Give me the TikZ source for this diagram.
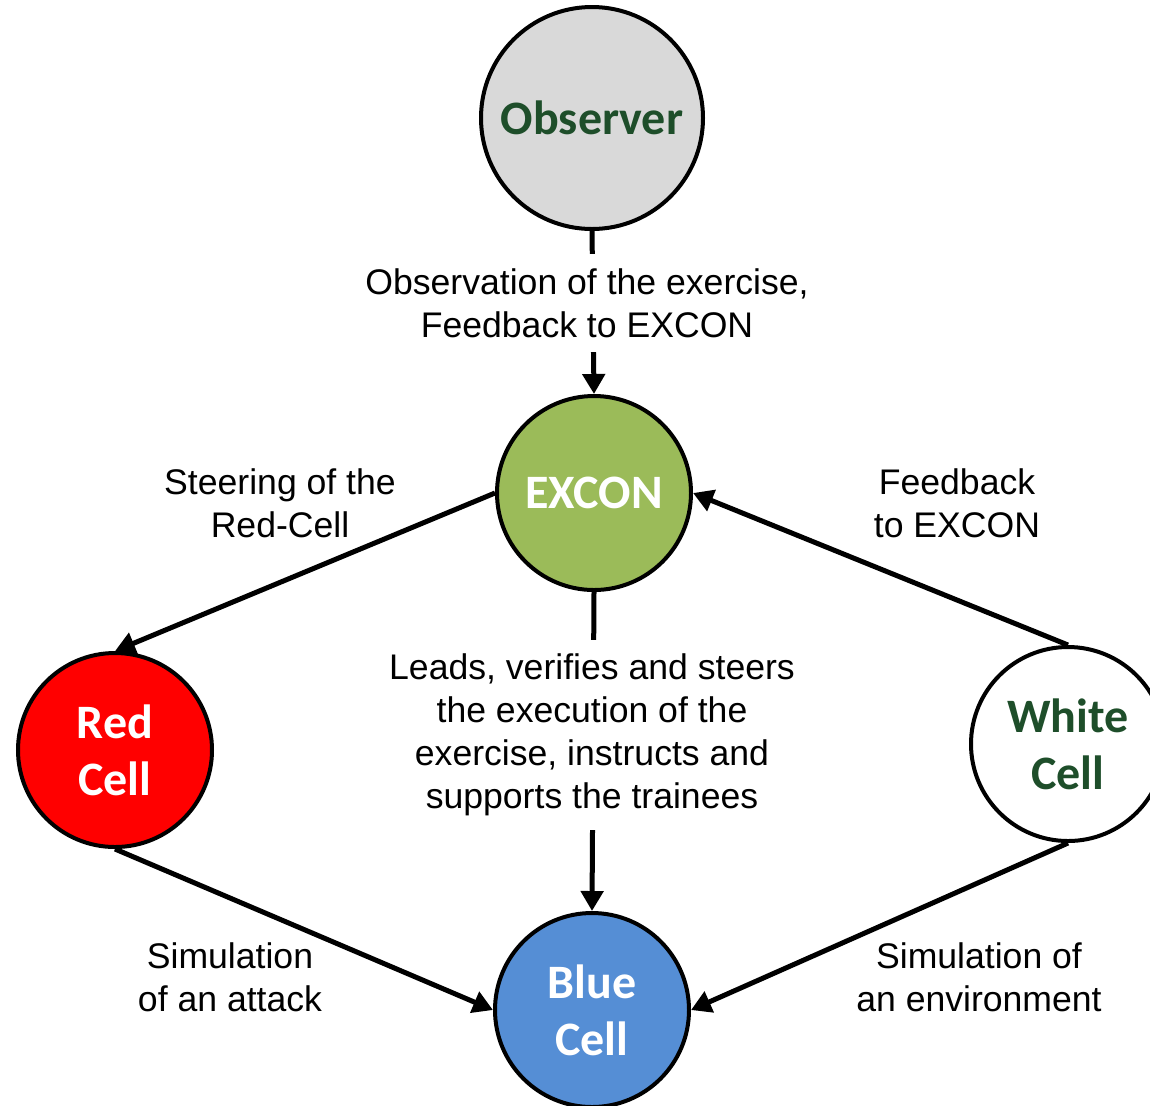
\documentclass[tikz,border=0pt]{standalone}
\usepackage{fontspec}
\setmainfont{Liberation Sans}
\newfontfamily\cellfont{Carlito}
\usetikzlibrary{arrows.meta}
\definecolor{obsgray}{HTML}{D9D9D9}
\definecolor{darkgreen}{HTML}{1E4E2A}
\definecolor{excongreen}{HTML}{9BBB59}
\definecolor{cellblue}{HTML}{558ED5}
\definecolor{cellred}{HTML}{FF0000}

\begin{document}
\begin{tikzpicture}[x=0.5pt,y=-0.5pt,
  cell/.style={circle,draw=black,line width=2pt,inner sep=0pt,align=center,
    minimum size=97pt,font=\cellfont\bfseries\fontsize{24}{28.5}\selectfont},
  lab/.style={align=center,font=\fontsize{17.8}{21.5}\selectfont,inner sep=0pt},
  gap/.style={lab,fill=white,inner sep=7pt},
  flow/.style={line width=2.5pt,-{Triangle[length=10pt,width=11pt]}}]
\useasboundingbox (0,0) rectangle (1150,1105);
\clip (0,0) rectangle (1150,1105);

% roles
\node[cell,fill=obsgray,text=darkgreen,minimum size=111pt] (obs) at (592,118) {Observer};
\node[cell,fill=excongreen,text=white] (excon) at (594,493) {EXCON};
\node[cell,fill=cellred,text=white] (red) at (115,750) {Red\\Cell};
\node[cell,fill=white,text=darkgreen] (white) at (1068,744) {White\\Cell};
\node[cell,fill=cellblue,text=white] (blue) at (592,1010) {Blue\\Cell};

% relations
\draw[flow] (obs.south) -- (excon.north);
\draw[flow] (excon.west) -- (red.north);
\draw[flow] (white.north) -- (excon.east);
\draw[flow] (excon.south) -- (blue.north);
\draw[flow] (red.south) -- (blue.west);
\draw[flow] (white.south) -- (blue.east);

% labels
\node[gap] (lobs) at (587,303) {Observation of the exercise,\\Feedback to EXCON};
\node[gap] (llead) at (592,735) {Leads, verifies and steers\\the execution of the\\exercise, instructs and\\supports the trainees};
\node[lab] (lsteer) at (280,503) {Steering of the\\Red-Cell};
\node[lab] (lfeed) at (957,503) {Feedback\\to EXCON};
\node[lab] (lattack) at (230,977) {Simulation\\of an attack};
\node[lab] (lenv) at (979,977) {Simulation of\\an environment};
\end{tikzpicture}
\end{document}
